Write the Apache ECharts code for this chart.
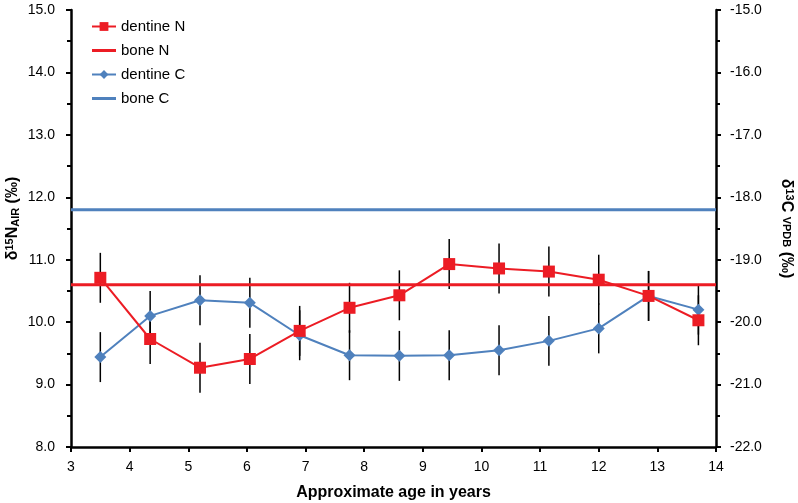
<!DOCTYPE html>
<html><head><meta charset="utf-8">
<script src="https://cdn.jsdelivr.net/npm/echarts@6/dist/echarts.min.js"></script>
<style>html,body{margin:0;padding:0;background:#fff}#c{width:798px;height:503px}</style>
</head><body><div id="c"></div>
<script>
var ages = [3.5, 4.35, 5.2, 6.05, 6.9, 7.75, 8.6, 9.45, 10.3, 11.15, 12.0, 12.85, 13.7];
var dentineN = [10.71, 9.73, 9.27, 9.41, 9.86, 10.23, 10.43, 10.93, 10.86, 10.81, 10.68, 10.42, 10.03];
var dentineC = [-20.56, -19.90, -19.65, -19.69, -20.21, -20.53, -20.54, -20.53, -20.45, -20.30, -20.10, -19.58, -19.80];
var errN = [0.4, 0.4, 0.4, 0.4, 0.4, 0.4, 0.4, 0.4, 0.4, 0.4, 0.4, 0.4, 0.4];
var errC = [0.4, 0.4, 0.4, 0.4, 0.4, 0.4, 0.4, 0.4, 0.4, 0.4, 0.4, 0.4, 0.4];
var boneN = 10.6;
var boneC = -18.2;
var xRange = [3, 14];
var yNRange = [8, 15];
var yCRange = [-22, -15];

var RED = '#EC1C24', BLUE = '#4F81BD';
var FONT = 'Liberation Sans, Arial, sans-serif';
function pairs(xs, ys){ return xs.map(function(x,i){return [x, ys[i]];}); }
function errData(xs, ys, es){ return xs.map(function(x,i){return [x, ys[i]-es[i], ys[i]+es[i]];}); }
function errRender(params, api){
  var p1 = api.coord([api.value(0), api.value(1)]);
  var p2 = api.coord([api.value(0), api.value(2)]);
  return {type:'line', shape:{x1:p1[0], y1:p1[1], x2:p2[0], y2:p2[1]}, style:{stroke:'#000', lineWidth:1.5}};
}
var axisFont = {fontFamily:FONT, fontSize:14, color:'#000'};
var lineIcon = 'path://M0,0L24,0L24,3L0,3Z';
var chart = echarts.init(document.getElementById('c'));
chart.setOption({
  animation:false,
  backgroundColor:'#fff',
  grid:{left:71, right:82, top:10, bottom:56, containLabel:false, outerBoundsMode:'none'},
  legend:{
    orient:'vertical', left:86, top:14, itemWidth:24, itemHeight:11, itemGap:9,
    textStyle:{fontFamily:FONT, fontSize:15, color:'#000'},
    data:[{name:'dentine N'},{name:'bone N', icon:lineIcon},{name:'dentine C'},{name:'bone C', icon:lineIcon}]
  },
  xAxis:{
    type:'value', min:xRange[0], max:xRange[1], interval:1,
    name:'Approximate age in years', nameLocation:'middle', nameGap:38,
    nameTextStyle:{fontFamily:FONT, fontSize:16, fontWeight:'bold', color:'#000'},
    axisLine:{onZero:false, lineStyle:{color:'#000', width:2.5}},
    axisTick:{show:true, inside:false, length:5, lineStyle:{color:'#000', width:2}},
    axisLabel:Object.assign({margin:13}, axisFont),
    splitLine:{show:false}
  },
  yAxis:[{
    type:'value', min:yNRange[0], max:yNRange[1], interval:1, position:'left',
    name:'{b|δ}{sup|15}{b|N}{sub|AIR}{b| (‰)}', nameLocation:'middle', nameGap:50, nameRotate:90,
    nameMoveOverlap:false,
    nameTextStyle:{padding:[0,0,0,20], rich:{
      b:{fontFamily:FONT, fontSize:16, fontWeight:'bold', color:'#000'},
      sup:{fontFamily:FONT, fontSize:11, fontWeight:'bold', color:'#000', verticalAlign:'top', padding:[0,0,6,0]},
      sub:{fontFamily:FONT, fontSize:11, fontWeight:'bold', color:'#000', verticalAlign:'bottom', padding:[6,0,0,0]}
    }},
    axisLine:{show:true, lineStyle:{color:'#000', width:2.5}},
    axisTick:{show:true, length:5, lineStyle:{color:'#000', width:2}},
    minorTick:{show:true, splitNumber:2, length:4, lineStyle:{color:'#000', width:2}},
    axisLabel:Object.assign({margin:16, formatter:function(v){return v.toFixed(1);}}, axisFont),
    splitLine:{show:false}
  },{
    type:'value', min:yCRange[0], max:yCRange[1], interval:1, position:'right',
    name:'{b|δ}{sup|13}{b|C }{sm|VPDB}{b| (‰)}', nameLocation:'middle', nameGap:62, nameRotate:-90,
    nameTextStyle:{rich:{
      b:{fontFamily:FONT, fontSize:16, fontWeight:'bold', color:'#000'},
      sup:{fontFamily:FONT, fontSize:11, fontWeight:'bold', color:'#000', verticalAlign:'top', padding:[0,0,6,0]},
      sm:{fontFamily:FONT, fontSize:11, fontWeight:'bold', color:'#000'}
    }},
    axisLine:{show:true, lineStyle:{color:'#000', width:2.5}},
    axisTick:{show:true, length:5, lineStyle:{color:'#000', width:2}},
    minorTick:{show:true, splitNumber:2, length:4, lineStyle:{color:'#000', width:2}},
    axisLabel:Object.assign({margin:14, formatter:function(v){return v.toFixed(1);}}, axisFont),
    splitLine:{show:false}
  }],
  series:[
    {type:'custom', name:'errN', yAxisIndex:0, renderItem:errRender, data:errData(ages, dentineN, errN), z:1, silent:true},
    {type:'custom', name:'errC', yAxisIndex:1, renderItem:errRender, data:errData(ages, dentineC, errC), z:1, silent:true},
    {type:'line', name:'bone C', yAxisIndex:1, data:[[xRange[0], boneC],[xRange[1], boneC]], symbol:'none', lineStyle:{color:BLUE, width:3}, itemStyle:{color:BLUE}, z:2},
    {type:'line', name:'dentine C', yAxisIndex:1, data:pairs(ages, dentineC), symbol:'diamond', symbolSize:12, lineStyle:{color:BLUE, width:2}, itemStyle:{color:BLUE}, z:3},
    {type:'line', name:'dentine N', yAxisIndex:0, data:pairs(ages, dentineN), symbol:'rect', symbolSize:12, lineStyle:{color:RED, width:2}, itemStyle:{color:RED}, z:4},
    {type:'line', name:'bone N', yAxisIndex:0, data:[[xRange[0], boneN],[xRange[1], boneN]], symbol:'none', lineStyle:{color:RED, width:3}, itemStyle:{color:RED}, z:5}
  ]
});
</script></body></html>
